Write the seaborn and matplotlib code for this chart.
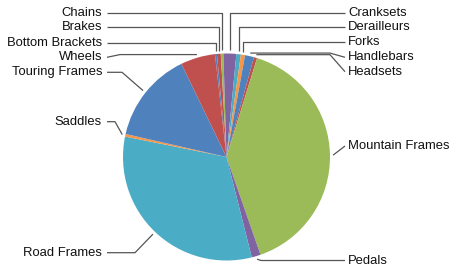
import matplotlib
matplotlib.use("Agg")
import matplotlib.pyplot as plt
import seaborn as sns
import numpy as np

# ---- data (share of sales, %) ----
categories = ["Bottom Brackets", "Brakes", "Chains", "Cranksets", "Derailleurs",
              "Forks", "Handlebars", "Headsets", "Mountain Frames", "Pedals",
              "Road Frames", "Saddles", "Touring Frames", "Wheels"]
shares = [0.3, 0.6, 0.4, 2.0, 0.7, 0.65, 1.4, 0.5, 39.9, 1.4, 32.1, 0.4, 14.25, 5.4]
palette = ["#4F81BD", "#C0504D", "#9BBB59", "#8064A2", "#4BACC6", "#F79646"]

# ---- label layout: side, label y (px from top), leader mode, elbow x ----
layout = {
    "Chains":          ("L", 12.7, "v", None),
    "Brakes":          ("L", 27.3, "v", None),
    "Bottom Brackets": ("L", 42.7, "v", None),
    "Wheels":          ("L", 57.3, "h", 120),
    "Touring Frames":  ("L", 72.3, "d", 122),
    "Saddles":         ("L", 121.7, "d", 115),
    "Road Frames":     ("L", 252.7, "d", 135),
    "Cranksets":       ("R", 12.7, "v", None),
    "Derailleurs":     ("R", 27.3, "v", None),
    "Forks":           ("R", 42.3, "v", None),
    "Handlebars":      ("R", 57.3, "h", 330),
    "Headsets":        ("R", 71.7, "h", 330),
    "Mountain Frames": ("R", 146.0, "s", None),
    "Pedals":          ("R", 260.5, "p", None),
}

W, H = 458, 276
sns.set_theme(style="white")
plt.rcParams["font.family"] = ["Liberation Sans", "DejaVu Sans"]

fig = plt.figure(figsize=(W / 100, H / 100), dpi=100)
ax = fig.add_axes([0, 0, 1, 1])

cx, cy_px, R = 226.5, 157.0, 103.5
colors = [palette[i % len(palette)] for i in range(len(categories))]
wedges, _ = ax.pie(shares, colors=colors, startangle=96.4, counterclock=False,
                   center=(cx, H - cy_px), radius=R,
                   wedgeprops=dict(linewidth=0, antialiased=True))
ax.set_xlim(0, W)
ax.set_ylim(0, H)
ax.set_aspect("auto")
ax.axis("off")

line_col = "#555555"
text_col = "#111111"
L_text_x, L_line_x = 102, 107
R_text_x, R_line_x = 348.3, 345

for w, name in zip(wedges, categories):
    side, ly_px, mode, ex = layout[name]
    mid = np.deg2rad((w.theta1 + w.theta2) / 2)
    axp = cx + 1.03 * R * np.cos(mid)
    ayp = (H - cy_px) + 1.03 * R * np.sin(mid)
    ly = H - ly_px
    end_x = L_line_x if side == "L" else R_line_x
    if mode == "v":
        pts = [(axp, ayp), (axp, ly), (end_x, ly)]
    elif mode == "h":
        pts = [(axp, ayp), (ex, ayp), (end_x, ly)]
    elif mode == "d":
        pts = [(axp, ayp), (ex, ly), (end_x, ly)]
    elif mode == "p":
        pts = [(axp, ayp), (axp + 4, ly), (end_x, ly)]
    else:
        pts = [(axp, ayp), (end_x, ly)]
    xs, ys = zip(*pts)
    ax.plot(xs, ys, color=line_col, lw=0.9, solid_capstyle="butt")
    if side == "L":
        ax.text(L_text_x, ly, name, ha="right", va="center", fontsize=9.35, color=text_col)
    else:
        ax.text(R_text_x, ly, name, ha="left", va="center", fontsize=9.35, color=text_col)

fig.savefig("out.png", dpi=100, facecolor="white")
